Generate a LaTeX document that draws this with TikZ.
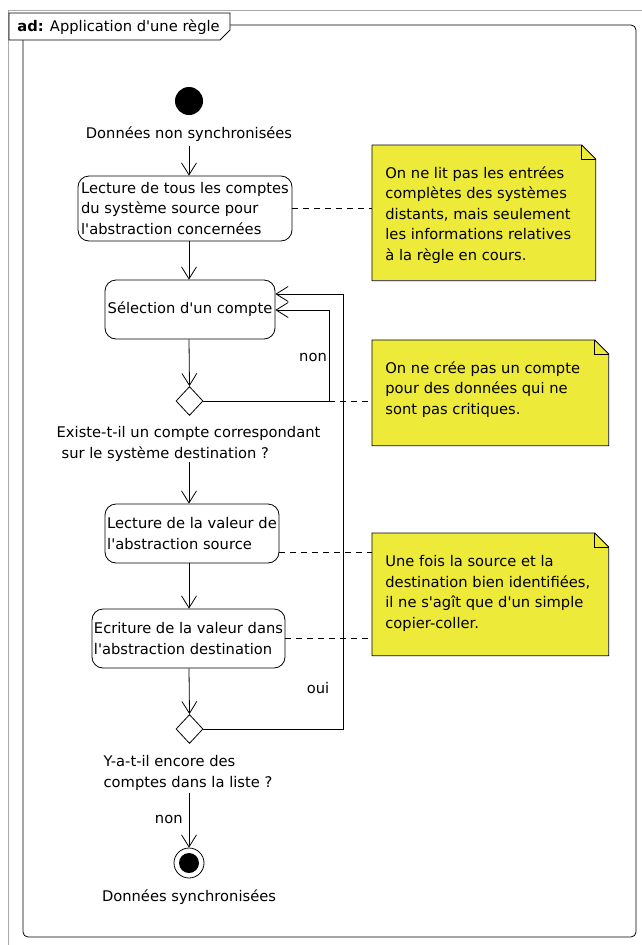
\documentclass[tikz,border=0pt]{standalone}
\usepackage{fontspec}
\setmainfont{DejaVu Sans}[Ligatures=TeXOff]
\usetikzlibrary{
  arrows.meta,
  positioning,
  calc,
  shapes.geometric
}
\definecolor{noteyellow}{RGB}{238,234,58}
\definecolor{edgegray}{RGB}{170,170,170}

\begin{document}
\begin{tikzpicture}[
        x=1pt, y=-1pt,
        >={Straight Barb[length=12pt,width=15pt]},
        line width=0.8pt,
        every node/.style={font=\fontsize{14.7}{20.5}\selectfont},
        action/.style={draw, rounded corners=11pt, align=left, inner xsep=2pt, inner ysep=0pt},
        decision/.style={draw, diamond, aspect=1, inner sep=0pt, minimum width=27pt, minimum height=29pt},
        flow/.style={->},
        notelink/.style={dash pattern=on 6pt off 5pt},
        note/.style={fill=noteyellow, anchor=north west, inner sep=0pt},
        notetext/.style={anchor=north west, align=left, inner sep=0pt},
        lbl/.style={inner sep=0pt}
    ]
        \useasboundingbox (0,0) rectangle (642,945);
        % Cadre
        \draw[edgegray, line width=1pt] (642,10) -- (8,10) -- (8,945);
        \draw[rounded corners=5pt] (230,25) -- (636,25) -- (636,937) -- (23,937) -- (23,40);
        \draw[fill=white] (9,13) -- (230,13) -- (230,30) -- (220,40) -- (9,40) -- cycle;
        \node[lbl, anchor=west] (title) at (17,27) {\textbf{ad:} Application d'une règle};
        % Flot principal
        \coordinate (spine) at (189,0);
        \node[circle, fill=black, minimum size=28pt, inner sep=0pt] (start) at (189,101) {};
        \node[lbl] (startlbl) at (189,134) {Données non synchronisées};
        \node[action, minimum width=214pt, minimum height=65pt] (act1) at (185,208.5)
            {Lecture de tous les comptes\\du système source pour\\l'abstraction concernées};
        \node[action, minimum width=170pt, minimum height=59pt] (act2) at (190,309.5) {Sélection d'un compte};
        \node[decision] (dec1) at (189.5,401) {};
        \node[lbl, align=left] (dec1lbl) at (188.5,444)
            {Existe-t-il un compte correspondant\\\hspace{5pt}sur le système destination ?};
        \node[action, minimum width=174pt, minimum height=59pt] (act3) at (192,533.5)
            {Lecture de la valeur de\\l'abstraction source};
        \node[action, minimum width=191pt, minimum height=59pt] (act4) at (188.5,638.5)
            {Ecriture de la valeur dans\\l'abstraction destination};
        \node[decision] (dec2) at (189.5,729) {};
        \node[lbl, align=left] (dec2lbl) at (188,773) {Y-a-t-il encore des\\comptes dans la liste ?};
        \node[circle, draw, minimum size=30pt, inner sep=0pt,
            path picture={\fill[black] (path picture bounding box.center) circle (10pt);}] (final) at (189,863) {};
        \node[lbl] (finallbl) at (189,897) {Données synchronisées};
        % Transitions
        \draw[flow, shorten <=4pt] (startlbl.south -| spine) -- (act1.north -| spine);
        \draw[flow] (act1.south -| spine) -- (act2.north -| spine);
        \draw[flow] (act2.south -| spine) -- (dec1.north);
        \draw[flow] (dec1lbl.south -| spine) -- (act3.north -| spine);
        \draw[flow] (act3.south -| spine) -- (act4.north -| spine);
        \draw[flow] (act4.south -| spine) -- (dec2.north);
        \draw[flow, shorten <=2pt] (dec2lbl.south -| spine) -- node[lbl, left=6pt] (non2) {non} (final.north);
        % Boucles
        \coordinate (nonturn) at (329,310);
        \coordinate (ouiturn) at (343,294);
        \draw[flow] (dec1.east) -| (nonturn) -- (nonturn -| act2.east);
        \draw[flow] (dec2.east) -| (ouiturn) -- (ouiturn -| act2.east);
        \node[lbl] (non1) at (313,357) {non};
        \node[lbl] (oui) at (318,688) {oui};
        % Notes
        \node[note, minimum width=223pt, minimum height=135pt] (note1) at (372,145) {};
        \node[note, minimum width=236pt, minimum height=105pt] (note2) at (372,340) {};
        \node[note, minimum width=236pt, minimum height=122pt] (note3) at (372,533) {};
        \foreach \n in {note1,note2,note3} {
            \fill[white] ([xshift=-14pt]\n.north east) -- (\n.north east) -- ([yshift=-14pt]\n.north east) -- cycle;
            \draw (\n.north west) -- ([xshift=-14pt]\n.north east) -- ([yshift=-14pt]\n.north east)
                -- (\n.south east) -- (\n.south west) -- cycle;
            \draw ([xshift=-14pt]\n.north east) |- ([yshift=-14pt]\n.north east);
        }
        \node[notetext] (note1txt) at ([xshift=13pt,yshift=-21pt]note1.north west)
            {On ne lit pas les entrées\\complètes des systèmes\\distants, mais seulement\\les informations relatives\\à la règle en cours.};
        \node[notetext] (note2txt) at ([xshift=13pt,yshift=-21pt]note2.north west)
            {On ne crée pas un compte\\pour des données qui ne\\sont pas critiques.};
        \node[notetext] (note3txt) at ([xshift=13pt,yshift=-22pt]note3.north west)
            {Une fois la source et la\\destination bien identifiées,\\il ne s'agît que d'un simple\\copier-coller.};
        % Liens vers les notes
        \coordinate (nonlink) at (nonturn |- dec1.east);
        \coordinate (act3link) at ([yshift=11pt]act3.south east);
        \draw[notelink] (act1.east) -- (act1.east -| note1.west);
        \draw[notelink] (nonlink) -- (nonlink -| note2.west);
        \draw[notelink] (act3link) -- (act3link -| note3.west);
        \draw[notelink] (act4.east) -- (act4.east -| note3.west);
    \end{tikzpicture}
\end{document}
